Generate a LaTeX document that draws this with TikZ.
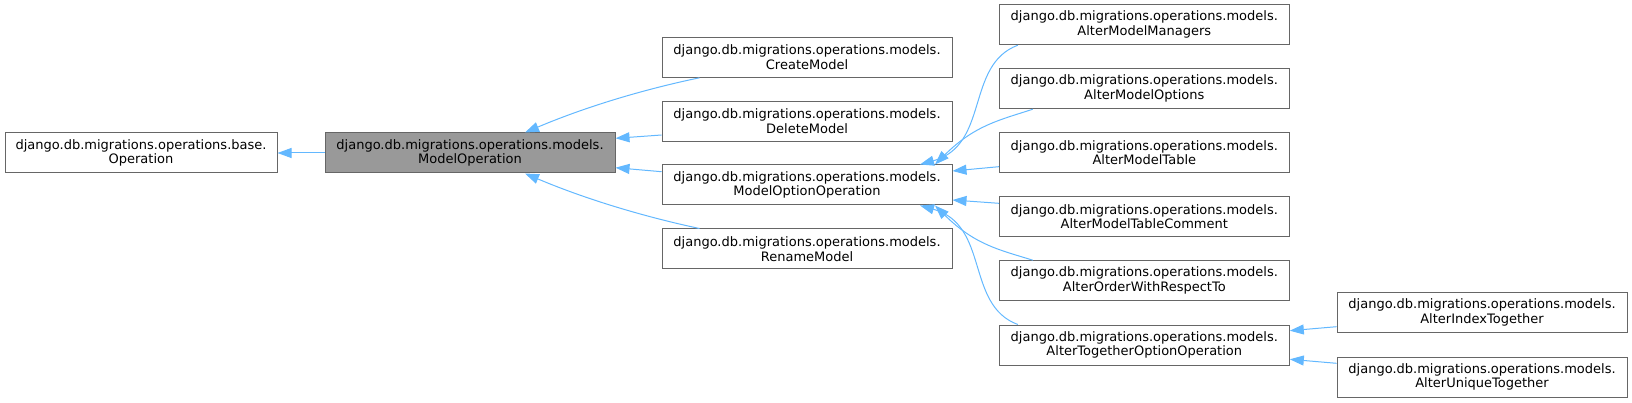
\documentclass[tikz,border=0pt]{standalone}
\usepackage{fontspec}
\setmainfont{DejaVu Sans}
\usepackage{tikz}
\usetikzlibrary{arrows.meta,calc}
\definecolor{clsborder}{HTML}{666666}
\definecolor{clsgray}{HTML}{999999}
\definecolor{inhblue}{HTML}{63B8FF}

\begin{document}
\begin{tikzpicture}[x=1pt,y=-1pt,
	cls/.style={draw=clsborder,line width=1pt,minimum width=290pt,minimum height=40pt,inner sep=0pt,align=center,font=\fontsize{13}{14.7}\selectfont},
	cur/.style={cls,fill=clsgray},
	inh/.style={draw=inhblue,line width=1pt,-{Triangle[length=14pt,width=10pt]}}]
	\useasboundingbox (0,0) rectangle (1632,403);
	\node[cls,minimum width=272pt] (op) at (141,153) {django.db.migrations.operations.base.\\Operation};
	\node[cur] (mo) at (470,153) {django.db.migrations.operations.models.\\ModelOperation};
	\node[cls] (cm) at (807,57.3) {django.db.migrations.operations.models.\\CreateModel};
	\node[cls] (dm) at (807,121.3) {django.db.migrations.operations.models.\\DeleteModel};
	\node[cls] (mop) at (807,185) {django.db.migrations.operations.models.\\ModelOptionOperation};
	\node[cls] (rm) at (807,249) {django.db.migrations.operations.models.\\RenameModel};
	\node[cls] (amm) at (1144.3,24.7) {django.db.migrations.operations.models.\\AlterModelManagers};
	\node[cls] (amo) at (1144.3,88.7) {django.db.migrations.operations.models.\\AlterModelOptions};
	\node[cls] (amt) at (1144.3,152.7) {django.db.migrations.operations.models.\\AlterModelTable};
	\node[cls] (amtc) at (1144.3,216.7) {django.db.migrations.operations.models.\\AlterModelTableComment};
	\node[cls] (aowrt) at (1144.3,280.7) {django.db.migrations.operations.models.\\AlterOrderWithRespectTo};
	\node[cls] (atoo) at (1144.3,345) {django.db.migrations.operations.models.\\AlterTogetherOptionOperation};
	\node[cls] (ait) at (1482,312.7) {django.db.migrations.operations.models.\\AlterIndexTogether};
	\node[cls] (aut) at (1482,377) {django.db.migrations.operations.models.\\AlterUniqueTogether};

	% inheritance arrows
	\draw[inh] (mo.west) -- (op.east);
	\draw[inh] ($(cm.south west)+(38,0)$) .. controls (650,88) and (590,105) .. ($(mo.north)+(55,0)$);
	\draw[inh] ($(dm.west)+(0,13.7)$) -- ($(mo.east)+(0,-14.7)$);
	\draw[inh] ($(mop.west)+(0,-13.3)$) -- ($(mo.east)+(0,14.7)$);
	\draw[inh] ($(rm.north west)+(38,0)$) .. controls (650,218) and (590,201) .. ($(mo.south)+(55,0)$);
	\draw[inh] ($(amm.south west)+(19,0)$) .. controls (965,65) and (990,145) .. ($(mop.north)+(113,0)$);
	\draw[inh] ($(amo.south west)+(34,0)$) .. controls (1000,120) and (975,125) .. ($(mop.north)+(128,0)$);
	\draw[inh] ($(amt.west)+(0,14)$) -- ($(mop.east)+(0,-14)$);
	\draw[inh] ($(amtc.west)+(0,-13.4)$) -- ($(mop.east)+(0,15)$);
	\draw[inh] ($(aowrt.north west)+(34,0)$) .. controls (1000,250) and (975,245) .. ($(mop.south)+(128,0)$);
	\draw[inh] ($(atoo.north west)+(19,0)$) .. controls (965,305) and (990,225) .. ($(mop.south)+(113,0)$);
	\draw[inh] ($(ait.west)+(0,14)$) -- ($(atoo.east)+(0,-14.3)$);
	\draw[inh] ($(aut.west)+(0,-13.7)$) -- ($(atoo.east)+(0,14.3)$);
\end{tikzpicture}
\end{document}
